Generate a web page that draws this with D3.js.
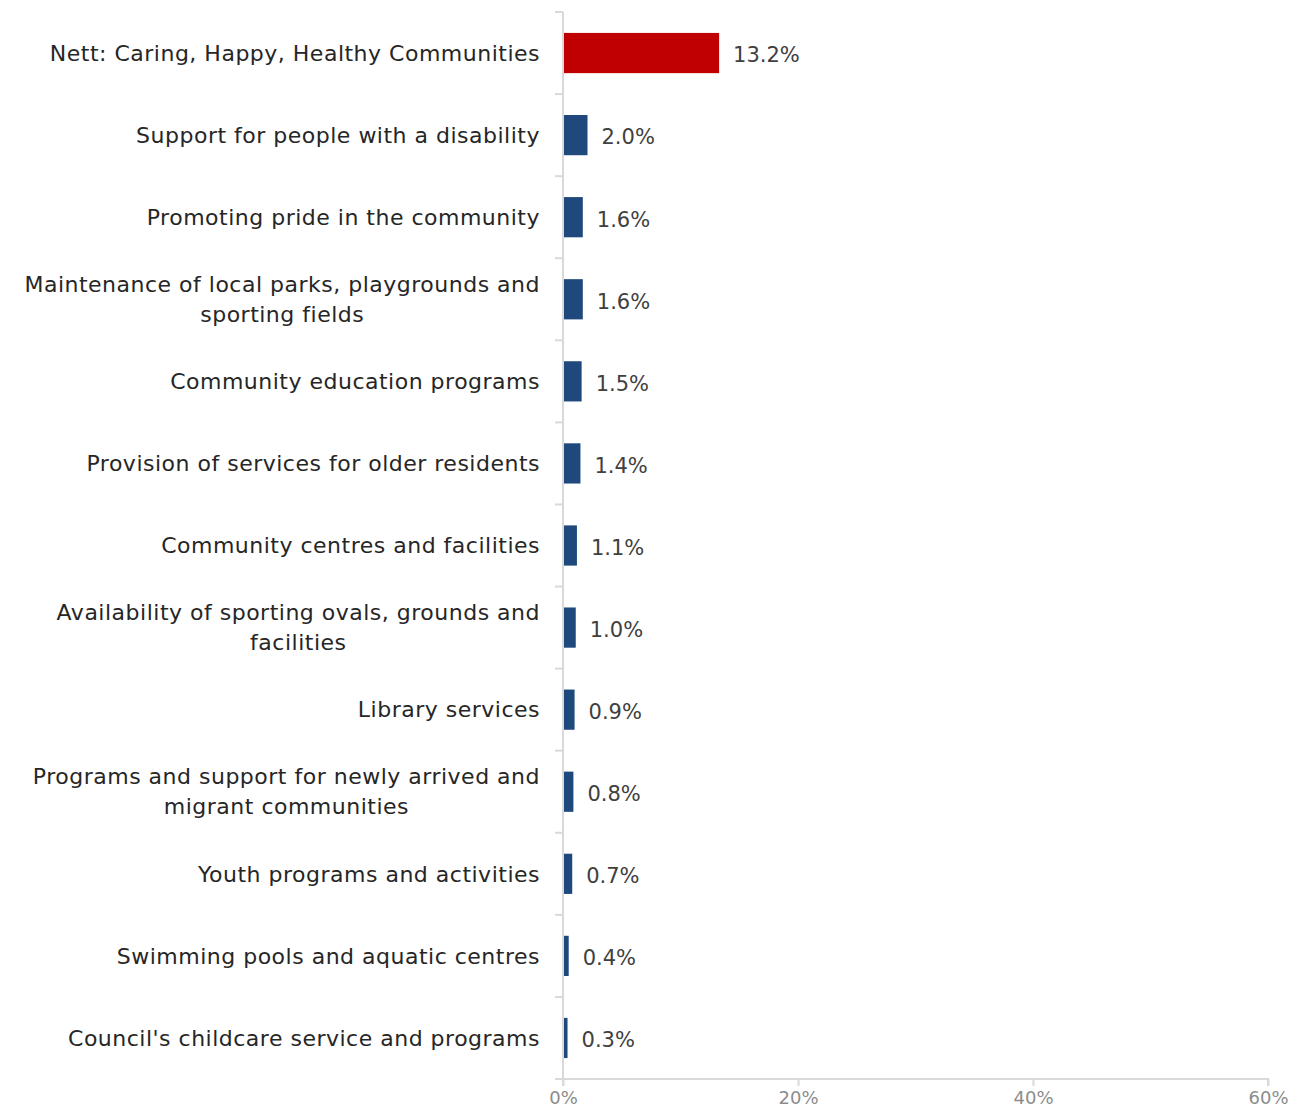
<!DOCTYPE html>
<html><head><meta charset="utf-8">
<script src="https://cdn.jsdelivr.net/npm/d3@7"></script>
<style>body{margin:0;background:#fff}svg{display:block}</style>
</head><body>
<svg id="chart" width="1301" height="1117"></svg>
<script>
const categories = [
  "Nett: Caring, Happy, Healthy Communities",
  "Support for people with a disability",
  "Promoting pride in the community",
  "Maintenance of local parks, playgrounds and\nsporting fields",
  "Community education programs",
  "Provision of services for older residents",
  "Community centres and facilities",
  "Availability of sporting ovals, grounds and\nfacilities",
  "Library services",
  "Programs and support for newly arrived and\nmigrant communities",
  "Youth programs and activities",
  "Swimming pools and aquatic centres",
  "Council's childcare service and programs"
];
const values = [13.2, 2.0, 1.6, 1.6, 1.5, 1.4, 1.1, 1.0, 0.9, 0.8, 0.7, 0.4, 0.3];
const xTicks = [0, 20, 40, 60];

const FONT = "'DejaVu Sans', sans-serif";
const svg = d3.select("#chart");
const x0 = 563, x1 = 1268, yTop = 12, yBot = 1079;
const x = d3.scaleLinear().domain([0, 60]).range([x0, x1]);
const y = d3.scaleBand().domain(categories).range([yTop, yBot]).paddingInner(0.51).paddingOuter(0.255);
const yb = d3.scaleBand().domain(categories).range([yTop, yBot]);

// bars
svg.append("g").selectAll("rect").data(categories).join("rect")
  .attr("x", x(0) + 1)
  .attr("y", d => y(d))
  .attr("width", (d, i) => Math.max(0, x(values[i]) - x(0)))
  .attr("height", y.bandwidth())
  .attr("fill", (d, i) => i === 0 ? "#C00000" : "#1F497D");

// y axis line and ticks at band boundaries
const ax = svg.append("g").attr("stroke", "#d9d9d9").attr("stroke-width", 2);
ax.append("line").attr("x1", x0).attr("x2", x0).attr("y1", yTop).attr("y2", yBot);
const bounds = categories.map(d => yb(d)).concat([yBot]);
ax.selectAll("line.t").data(bounds).join("line").attr("class", "t")
  .attr("x1", x0 - 8).attr("x2", x0).attr("y1", d => d).attr("y2", d => d);

// x axis
const xAxis = d3.axisBottom(x).tickValues(xTicks).tickSize(7).tickFormat(d => d + "%");
const gx = svg.append("g").attr("transform", `translate(0,${yBot})`).call(xAxis);
gx.select(".domain").attr("stroke", "#d9d9d9").attr("stroke-width", 2).attr("d", `M${x0},7V0H${x1}V7`);
gx.selectAll(".tick line").attr("stroke", "#d9d9d9").attr("stroke-width", 2);
gx.selectAll(".tick text").attr("fill", "#8c8c8c").attr("font-family", FONT).attr("font-size", 18).attr("dy", "1.0em").attr("y", 7);

// category labels
const labelRight = 540;
const lg = svg.append("g").attr("font-family", FONT).attr("font-size", 22).attr("letter-spacing", 0.5).attr("fill", "#262626");
categories.forEach((c, i) => {
  const lines = c.split("\n");
  const cy = yb(c) + yb.bandwidth() / 2;
  const t = lg.append("text");
  lines.forEach((ln, k) => {
    t.append("tspan").text(ln).attr("y", cy + (k - (lines.length - 1) / 2) * 30).attr("dy", "0.35em");
  });
  if (lines.length === 1) {
    t.attr("text-anchor", "end").selectAll("tspan").attr("x", labelRight);
  } else {
    const widths = [];
    t.selectAll("tspan").each(function() { widths.push(this.getComputedTextLength()); });
    const mw = d3.max(widths);
    t.attr("text-anchor", "middle").selectAll("tspan").attr("x", labelRight - mw / 2);
  }
});

// value labels
svg.append("g").attr("font-family", FONT).attr("font-size", 21).attr("fill", "#404040")
  .selectAll("text").data(categories).join("text")
  .attr("x", (d, i) => x(values[i]) + 15)
  .attr("y", d => yb(d) + yb.bandwidth() / 2 + 2)
  .attr("dy", "0.35em")
  .text((d, i) => values[i].toFixed(1) + "%");
</script>
</body></html>
